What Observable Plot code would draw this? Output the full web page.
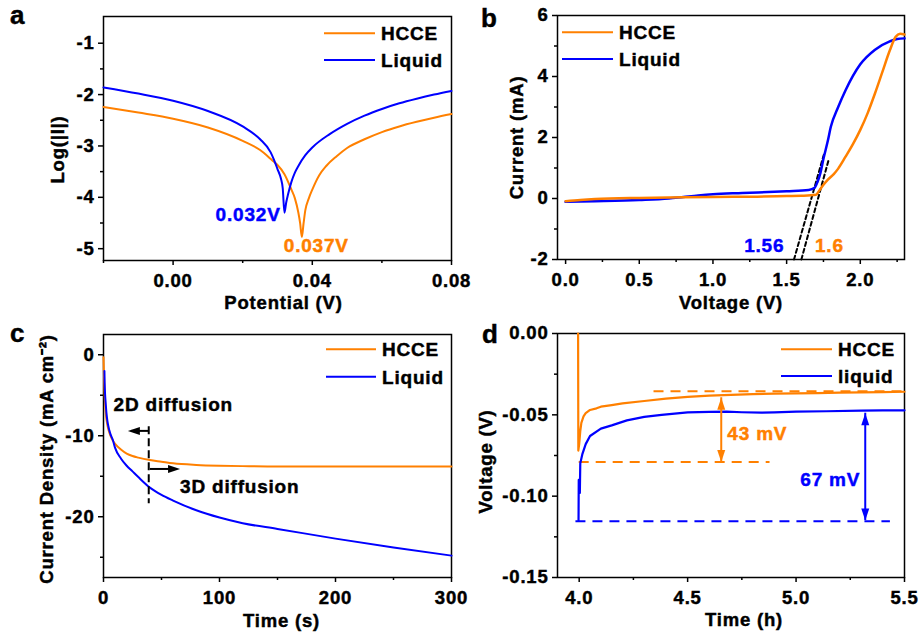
<!DOCTYPE html>
<html><head><meta charset="utf-8">
<script src="https://cdn.jsdelivr.net/npm/d3@7"></script>
<script src="https://cdn.jsdelivr.net/npm/@observablehq/plot@0.6"></script>
<style>
body{margin:0;background:#fff;}
#fig{position:relative;width:921px;height:640px;font-family:"Liberation Sans",Arial,sans-serif;}
#fig .panel{position:absolute;}
</style></head><body><div id="fig"></div><script>
// ---------- Panel a : Tafel ----------
const aHcceX = [-0.02,-0.01,0,0.01,0.02,0.025,0.028,0.029,0.030,0.032,0.034,0.035,0.036,0.0365,0.037,0.0375,0.038,0.039,0.040,0.042,0.044,0.047,0.05,0.055,0.06,0.065,0.07,0.075,0.08];
const aHcceY = [-2.24,-2.35,-2.47,-2.64,-2.90,-3.08,-3.25,-3.31,-3.37,-3.55,-3.85,-4.02,-4.30,-4.50,-4.77,-4.50,-4.25,-4.02,-3.85,-3.57,-3.39,-3.20,-3.04,-2.87,-2.73,-2.62,-2.53,-2.45,-2.38];
const aLiqX = [-0.02,-0.01,0,0.01,0.02,0.025,0.028,0.029,0.030,0.031,0.0315,0.032,0.0325,0.033,0.034,0.035,0.036,0.038,0.040,0.045,0.05,0.055,0.06,0.065,0.07,0.075,0.08];
const aLiqY = [-1.86,-1.98,-2.12,-2.32,-2.62,-2.87,-3.12,-3.27,-3.45,-3.64,-3.82,-4.30,-4.10,-3.95,-3.70,-3.52,-3.39,-3.18,-3.03,-2.77,-2.57,-2.41,-2.28,-2.17,-2.08,-2.00,-1.93];
const aXTicks = [0, 0.04, 0.08], aXMinor = [-0.02, 0.02, 0.06];
const aYTicks = [-1, -2, -3, -4, -5], aYMinor = [-1.5, -2.5, -3.5, -4.5];

// ---------- Panel b : LSV ----------
const bHcceX = [0,0.1,0.2,0.5,0.8,1.0,1.3,1.5,1.6,1.7,1.72,1.75,1.78,1.82,1.85,1.9,1.95,2.0,2.05,2.1,2.15,2.2,2.24,2.27,2.3];
const bHcceY = [-0.09,-0.05,-0.02,0.02,0.04,0.05,0.06,0.08,0.09,0.12,0.25,0.45,0.62,0.80,0.98,1.37,1.78,2.25,2.80,3.45,4.15,4.85,5.30,5.40,5.38];
const bLiqX = [0,0.2,0.5,0.7,0.8,0.9,1.0,1.2,1.5,1.65,1.69,1.71,1.73,1.75,1.78,1.8,1.85,1.9,1.95,2.0,2.1,2.2,2.25,2.3];
const bLiqY = [-0.11,-0.09,-0.05,0.0,0.05,0.10,0.14,0.18,0.24,0.28,0.35,0.55,0.85,1.30,1.90,2.35,3.00,3.55,4.02,4.40,4.88,5.15,5.23,5.25];
const bTanLiqX = [1.55, 1.758], bTanLiqY = [-2, 1.53];
const bTanHcceX = [1.60, 1.783], bTanHcceY = [-2, 1.23];
const bXTicks = [0, 0.5, 1.0, 1.5, 2.0], bXMinor = [0.25, 0.75, 1.25, 1.75, 2.25];
const bYTicks = [6, 4, 2, 0, -2], bYMinor = [5, 3, 1, -1];

// ---------- Panel c : chronoamperometry ----------
const cHcceT = [0,0.5,1,2,3,4,6,8,10,15,20,25,30,40,50,60,80,100,120,150,200,250,300];
const cHcceY = [-0.3,-3,-5,-7.3,-8.4,-9.1,-10.0,-10.6,-11.0,-11.7,-12.2,-12.5,-12.7,-13.0,-13.2,-13.4,-13.6,-13.7,-13.75,-13.8,-13.8,-13.8,-13.8];
const cLiqT = [0.8,1,2,3,4,6,8,10,15,20,25,30,40,50,60,80,100,120,150,200,250,300];
const cLiqY = [-2,-3.5,-6.2,-7.8,-8.7,-9.8,-10.5,-11.5,-12.8,-13.7,-14.4,-15.1,-16.4,-17.3,-18.0,-19.2,-20.1,-20.8,-21.5,-22.7,-23.8,-24.8];
const cXTicks = [0, 100, 200, 300], cXMinor = [50, 150, 250];
const cYTicks = [0, -10, -20], cYMinor = [-5, -15, -25];

// ---------- Panel d : voltage vs time ----------
const dHcceT = [3.995,3.996,4.000,4.005,4.01,4.02,4.03,4.05,4.08,4.1,4.15,4.2,4.3,4.4,4.5,4.6,4.7,4.8,4.9,5.0,5.1,5.2,5.3,5.4,5.5];
const dHcceV = [0.0,-0.072,-0.068,-0.060,-0.055,-0.051,-0.049,-0.047,-0.046,-0.045,-0.044,-0.043,-0.0415,-0.0400,-0.0390,-0.0382,-0.0377,-0.0373,-0.0370,-0.0368,-0.0366,-0.0364,-0.0362,-0.0360,-0.0358];
const dLiqT = [3.997,3.998,4.003,4.005,4.008,4.015,4.03,4.05,4.1,4.15,4.22,4.3,4.38,4.5,4.6,4.68,4.75,4.84,4.9,5.0,5.14,5.3,5.4,5.5];
const dLiqV = [-0.115,-0.090,-0.098,-0.080,-0.078,-0.074,-0.068,-0.063,-0.0585,-0.0565,-0.0534,-0.0513,-0.050,-0.0485,-0.0482,-0.048,-0.0484,-0.0487,-0.0485,-0.048,-0.0478,-0.0474,-0.0473,-0.0472];
const dXTicks = [4.0, 4.5, 5.0, 5.5], dXMinor = [4.25, 4.75, 5.25];
const dYTicks = [0, -0.05, -0.10, -0.15], dYMinor = [-0.025, -0.075, -0.125];

const ORANGE = "#ff8000", BLUE = "#0000ff";
const FONT = "'Liberation Sans', Arial, sans-serif";
const pts = (xs, ys) => xs.map((x, i) => ({x, y: ys[i]}));
const head = {draw(ctx) { ctx.moveTo(0, 0); ctx.lineTo(-4, 12); ctx.lineTo(4, 12); ctx.closePath(); }};
const style = {fontFamily: FONT, fontSize: "18px", fontWeight: "bold", background: "transparent", overflow: "visible", color: "black"};

function axes(o) {
  return [
    Plot.axisX({ticks: o.xTicks, tickSize: 5, tickPadding: 8, tickFormat: o.xFmt, label: null, strokeWidth: 1.5, fontSize: 18.5}),
    Plot.axisX({ticks: o.xMinor, tickSize: 3, tickFormat: () => "", label: null, strokeWidth: 1.5}),
    Plot.axisY({ticks: o.yTicks, tickSize: 5, tickPadding: 4, tickFormat: o.yFmt, label: null, strokeWidth: 1.5, fontSize: 18.5}),
    Plot.axisY({ticks: o.yMinor, tickSize: 3, tickFormat: () => "", label: null, strokeWidth: 1.5}),
    Plot.frame({stroke: "black", strokeWidth: 1.5})
  ];
}
function yLabel(t, dx, dy) {
  return Plot.text([t], {text: d => d, frameAnchor: "left", rotate: -90, dx, dy, fontSize: 18.5, textAnchor: "middle", lineAnchor: "middle"});
}
function xLabel(t, dx, dy) {
  return Plot.text([t], {text: d => d, frameAnchor: "bottom", dx, dy, fontSize: 18.5, textAnchor: "middle", lineAnchor: "middle"});
}
function note(t, x, y, fill, anchor) {
  return Plot.text([{x, y, t}], {x: "x", y: "y", text: "t", fill, textAnchor: anchor, lineAnchor: "middle", fontSize: 19});
}
const smooth = "monotone-x";

const plotA = Plot.plot({
  width: 460, height: 320, marginLeft: 103, marginRight: 9, marginTop: 16, marginBottom: 60,
  x: {domain: [-0.02, 0.08]}, y: {domain: [-5.23, -0.48]}, style,
  marks: [
    ...axes({xTicks: aXTicks, xMinor: aXMinor, yTicks: aYTicks, yMinor: aYMinor, xFmt: d => d.toFixed(2), yFmt: d => String(d)}),
    Plot.line(pts(aHcceX, aHcceY), {x: "x", y: "y", stroke: ORANGE, strokeWidth: 2, curve: smooth}),
    Plot.line(pts(aLiqX, aLiqY), {x: "x", y: "y", stroke: BLUE, strokeWidth: 2, curve: smooth}),
    note("0.032V", 0.0309, -4.35, BLUE, "end"),
    note("0.037V", 0.0318, -4.94, ORANGE, "start"),
    yLabel("Log(|I|)", -45, 11),
    xLabel("Potential (V)", 6, 43)
  ]
});

const plotB = Plot.plot({
  width: 461, height: 320, marginLeft: 97, marginRight: 17, marginTop: 15, marginBottom: 61,
  x: {domain: [-0.055, 2.3]}, y: {domain: [-2, 6]}, style,
  marks: [
    ...axes({xTicks: bXTicks, xMinor: bXMinor, yTicks: bYTicks, yMinor: bYMinor, xFmt: d => d.toFixed(1), yFmt: d => String(d)}),
    Plot.line(pts(bTanLiqX, bTanLiqY), {x: "x", y: "y", stroke: "black", strokeWidth: 2, strokeDasharray: "4,3"}),
    Plot.line(pts(bTanHcceX, bTanHcceY), {x: "x", y: "y", stroke: "black", strokeWidth: 2, strokeDasharray: "4,3"}),
    Plot.line(pts(bLiqX, bLiqY), {x: "x", y: "y", stroke: BLUE, strokeWidth: 2.5, curve: smooth}),
    Plot.line(pts(bHcceX, bHcceY), {x: "x", y: "y", stroke: ORANGE, strokeWidth: 2.5, curve: smooth}),
    note("1.56", 1.348, -1.55, BLUE, "middle"),
    note("1.6", 1.79, -1.55, ORANGE, "middle"),
    yLabel("Current (mA)", -40, 0),
    xLabel("Voltage (V)", 0, 44)
  ]
});

const plotC = Plot.plot({
  width: 460, height: 320, marginLeft: 103, marginRight: 9, marginTop: 14, marginBottom: 63,
  x: {domain: [0, 300]}, y: {domain: [-27.5, 2.5]}, style,
  marks: [
    ...axes({xTicks: cXTicks, xMinor: cXMinor, yTicks: cYTicks, yMinor: cYMinor, xFmt: d => String(d), yFmt: d => String(d)}),
    Plot.line(pts(cHcceT, cHcceY), {x: "x", y: "y", stroke: ORANGE, strokeWidth: 2, curve: smooth}),
    Plot.line(pts(cLiqT, cLiqY), {x: "x", y: "y", stroke: BLUE, strokeWidth: 2, curve: smooth}),
    Plot.ruleX([39], {y1: -8.9, y2: -18.4, stroke: "black", strokeWidth: 2, strokeDasharray: "8,4"}),
    Plot.ruleY([-9.4], {x1: 24, x2: 39, stroke: "black", strokeWidth: 2}),
    Plot.dot([{x: 21, y: -9.4}], {x: "x", y: "y", symbol: head, rotate: -90, fill: "black", stroke: null}),
    Plot.ruleY([-14.1], {x1: 40.4, x2: 63, stroke: "black", strokeWidth: 2}),
    Plot.dot([{x: 66, y: -14.1}], {x: "x", y: "y", symbol: head, rotate: 90, fill: "black", stroke: null}),
    note("2D diffusion", 8.7, -6.2, "black", "start"),
    note("3D diffusion", 66, -16.3, "black", "start"),
    yLabel("Current Density (mA cm\u207B\u00B2)", -56, 3),
    xLabel("Time (s)", 4, 44)
  ]
});

const plotD = Plot.plot({
  width: 461, height: 320, marginLeft: 97, marginRight: 17, marginTop: 13, marginBottom: 63,
  x: {domain: [3.9, 5.5]}, y: {domain: [-0.15, 0]}, style,
  marks: [
    ...axes({xTicks: dXTicks, xMinor: dXMinor, yTicks: dYTicks, yMinor: dYMinor, xFmt: d => d.toFixed(1), yFmt: d => d.toFixed(2)}),
    Plot.ruleY([-0.0355], {x1: 4.345, x2: 5.5, stroke: ORANGE, strokeWidth: 2, strokeDasharray: "10,7"}),
    Plot.ruleY([-0.079], {x1: 4.0, x2: 4.88, stroke: ORANGE, strokeWidth: 2, strokeDasharray: "10,7"}),
    Plot.ruleY([-0.1154], {x1: 3.985, x2: 5.435, stroke: BLUE, strokeWidth: 2, strokeDasharray: "10,7"}),
    Plot.line(pts(dLiqT, dLiqV), {x: "x", y: "y", stroke: BLUE, strokeWidth: 2.2}),
    Plot.line(pts(dHcceT, dHcceV), {x: "x", y: "y", stroke: ORANGE, strokeWidth: 2.2}),
    Plot.ruleX([4.655], {y1: -0.0395, y2: -0.079, stroke: ORANGE, strokeWidth: 2}),
    Plot.dot([{x: 4.655, y: -0.0395}], {x: "x", y: "y", symbol: head, rotate: 0, fill: ORANGE, stroke: null}),
    Plot.dot([{x: 4.655, y: -0.079}], {x: "x", y: "y", symbol: head, rotate: 180, fill: ORANGE, stroke: null}),
    Plot.ruleX([5.319], {y1: -0.049, y2: -0.115, stroke: BLUE, strokeWidth: 2}),
    Plot.dot([{x: 5.319, y: -0.049}], {x: "x", y: "y", symbol: head, rotate: 0, fill: BLUE, stroke: null}),
    Plot.dot([{x: 5.319, y: -0.115}], {x: "x", y: "y", symbol: head, rotate: 180, fill: BLUE, stroke: null}),
    note("43 mV", 4.683, -0.062, ORANGE, "start"),
    note("67 mV", 5.296, -0.0899, BLUE, "end"),
    yLabel("Voltage (V)", -71, 6),
    xLabel("Time (h)", 13, 43)
  ]
});

const fig = document.getElementById("fig");
function heavy(sel) {
  // slightly heavier glyphs: outline each text in its own fill colour
  sel.each(function () {
    const f = getComputedStyle(this).fill;
    d3.select(this).style("stroke", f).style("stroke-width", "0.45px")
      .style("font-weight", "bold").style("font-family", FONT).style("letter-spacing", "0.8px");
  });
}
[[plotA, 0, 0], [plotB, 460, 0], [plotC, 0, 320], [plotD, 460, 320]].forEach(([p, l, t]) => {
  const div = document.createElement("div");
  div.className = "panel";
  div.style.left = l + "px"; div.style.top = t + "px";
  div.appendChild(p);
  fig.appendChild(div);
  heavy(d3.select(p).selectAll("text"));
});

// overlay: panel letters and legends
const legendSeries = [["HCCE", ORANGE], ["Liquid", BLUE]];
const legendSeriesD = [["HCCE", ORANGE], ["liquid", BLUE]];
const ov = d3.create("svg").attr("width", 921).attr("height", 640)
  .style("position", "absolute").style("left", 0).style("top", 0).style("pointer-events", "none")
  .style("font-family", FONT).style("font-weight", "bold");
[["a", 10, 24], ["b", 481, 27], ["c", 10, 342], ["d", 482, 343]].forEach(([t, x, y]) =>
  ov.append("text").attr("x", x).attr("y", y).attr("font-size", 26).text(t));
function legend(series, x1, x2, tx, ys) {
  series.forEach(([name, col], i) => {
    ov.append("line").attr("x1", x1).attr("x2", x2).attr("y1", ys[i]).attr("y2", ys[i])
      .attr("stroke", col).attr("stroke-width", 2);
    ov.append("text").attr("x", tx).attr("y", ys[i] + 6.8).attr("font-size", 19)
      .style("letter-spacing", "0.8px").text(name);
  });
}
legend(legendSeries, 324, 375, 381, [33.3, 60]);
legend(legendSeries, 562, 613, 619, [32.3, 59]);
legend(legendSeries, 326, 376, 382, [349.3, 376.7]);
legend(legendSeriesD, 781, 832, 838, [349.3, 376]);
fig.appendChild(ov.node());
heavy(ov.selectAll("text"));
</script></body></html>
